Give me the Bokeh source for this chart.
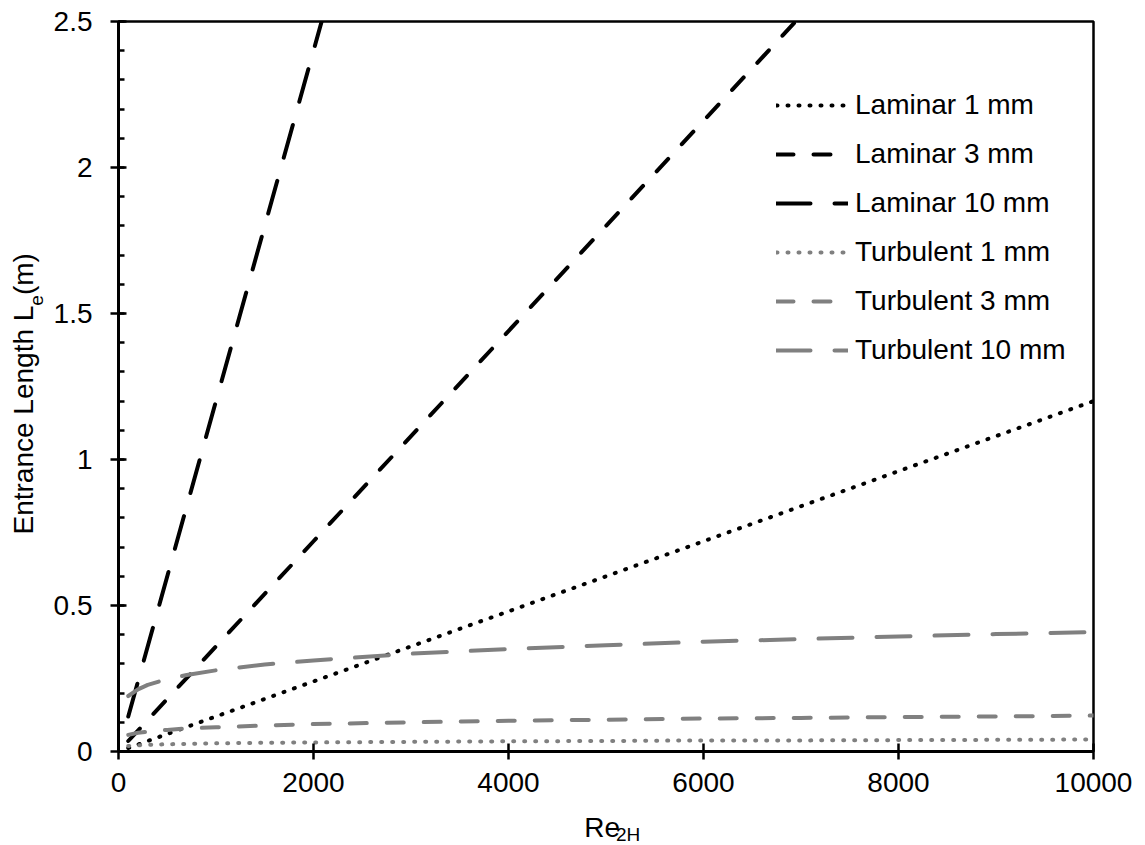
import math
from bokeh.plotting import figure
from bokeh.layouts import row, column
from bokeh.models import (Range1d, FixedTicker, CustomJSTickFormatter, Legend,
                          LegendItem, Label)
from bokeh.embed import file_html
from bokeh.resources import INLINE

# ---------------- data ----------------
re_lam = [100, 2000, 4000, 6000, 8000, 10000]
lam_1mm = [0.012, 0.24, 0.48, 0.72, 0.96, 1.2]
lam_3mm = [0.036, 0.72, 1.44, 2.16, 2.88, 3.6]
lam_10mm = [0.12, 2.4, 4.8, 7.2, 9.6, 12.0]

re_turb = [100, 200, 300, 500, 700, 1000, 1500, 2000, 3000, 4000, 5000,
           6000, 7000, 8000, 9000, 10000]
turb_1mm = [0.019, 0.021, 0.023, 0.025, 0.026, 0.028, 0.030, 0.031, 0.033,
            0.035, 0.036, 0.038, 0.038, 0.039, 0.040, 0.041]
turb_3mm = [0.057, 0.064, 0.068, 0.074, 0.079, 0.083, 0.089, 0.094, 0.100,
            0.105, 0.109, 0.113, 0.115, 0.118, 0.120, 0.123]
turb_10mm = [0.190, 0.213, 0.228, 0.248, 0.262, 0.278, 0.298, 0.312, 0.335,
             0.351, 0.364, 0.376, 0.385, 0.394, 0.402, 0.409]

series_names = ["Laminar 1 mm", "Laminar 3 mm", "Laminar 10 mm",
                "Turbulent 1 mm", "Turbulent 3 mm", "Turbulent 10 mm"]

x_ticks = [0, 2000, 4000, 6000, 8000, 10000]
y_ticks = [0, 0.5, 1, 1.5, 2, 2.5]
y_minor = [round(i * 0.1, 1) for i in range(26)]

x_label_main, x_label_sub = "Re", "2H"
y_label_main, y_label_sub, y_label_tail = "Entrance Length L", "e", "(m)"

# ---------------- styling ----------------
FONT = "Liberation Sans"
BLACK = "#000000"
GRAY = "#808080"
DOT = "1 10"
DASH = "17 20"
LONG = "34 24"

W, H = 1145, 845
LEFT_W = 50            # strip for the y-axis title
MAIN_H = 807           # main figure height
BOT_H = H - MAIN_H     # strip for the x-axis title
FL, FR, FT, FB = 117, 1093, 21, 751  # frame edges in page pixels

p = figure(width=W - LEFT_W, height=MAIN_H, output_backend="svg",
           toolbar_location=None,
           x_range=Range1d(0, 10000), y_range=Range1d(0, 2.5),
           min_border_left=FL - LEFT_W, min_border_right=W - FR,
           min_border_top=FT, min_border_bottom=MAIN_H - FB)
p.xgrid.visible = False
p.ygrid.visible = False
p.outline_line_color = BLACK
p.outline_line_width = 2.5
p.background_fill_color = "white"
p.border_fill_color = "white"

fmt = CustomJSTickFormatter(code="return String(Number(tick.toFixed(3)));")

xa = p.xaxis[0]
xa.ticker = FixedTicker(ticks=x_ticks)
xa.formatter = fmt
xa.minor_tick_line_color = None
xa.major_tick_in = 8
xa.major_tick_out = 8
xa.major_tick_line_width = 2.5
xa.axis_line_width = 3
xa.major_label_standoff = 13
xa.major_label_text_font = FONT
xa.major_label_text_font_size = "28px"
xa.major_label_text_color = BLACK

ya = p.yaxis[0]
ya.ticker = FixedTicker(ticks=y_ticks, minor_ticks=y_minor)
ya.formatter = fmt
ya.major_tick_in = 8
ya.major_tick_out = 8
ya.minor_tick_in = 6
ya.minor_tick_out = 0
ya.major_tick_line_width = 2.5
ya.minor_tick_line_width = 2.5
ya.axis_line_width = 3
ya.major_label_standoff = 18
ya.major_label_text_font = FONT
ya.major_label_text_font_size = "28px"
ya.major_label_text_color = BLACK

specs = [
    (re_lam, lam_1mm, BLACK, DOT),
    (re_lam, lam_3mm, BLACK, DASH),
    (re_lam, lam_10mm, BLACK, LONG),
    (re_turb, turb_1mm, GRAY, DOT),
    (re_turb, turb_3mm, GRAY, DASH),
    (re_turb, turb_10mm, GRAY, LONG),
]
items = []
for (xs, ys, col, dash), name in zip(specs, series_names):
    r = p.line(xs, ys, line_color=col, line_width=4, line_dash=dash,
               line_cap="round", line_join="round")
    items.append(LegendItem(label=name, renderers=[r]))

row_h, gap = 36, 13
leg_h = 6 * row_h + 5 * gap
leg_top = 105 - row_h / 2
legend = Legend(items=items, location=(775 - FL, FB - (leg_top + leg_h)),
                orientation="vertical", padding=0, margin=0, spacing=gap,
                glyph_width=72, glyph_height=row_h, label_height=row_h,
                label_standoff=7, border_line_color=None,
                background_fill_alpha=0,
                label_text_font=FONT, label_text_font_size="28px",
                label_text_color=BLACK, label_text_baseline="middle")
p.add_layout(legend, "center")


def text_strip(w, h):
    f = figure(width=w, height=h, output_backend="svg", toolbar_location=None,
               x_range=Range1d(0, w), y_range=Range1d(0, h),
               x_axis_type=None, y_axis_type=None,
               min_border=0, min_border_left=0, min_border_right=0,
               min_border_top=0, min_border_bottom=0)
    f.outline_line_color = None
    f.xgrid.visible = False
    f.ygrid.visible = False
    f.background_fill_color = "white"
    f.border_fill_color = "white"
    return f


def lab(fig, x, y, text, size, angle=0.0):
    fig.add_layout(Label(x=x, y=y, text=text, angle=angle,
                         text_font=FONT, text_font_size=size,
                         text_color=BLACK, text_align="left",
                         text_baseline="middle"))


# y-axis title strip (page x 0..50), Entrance Length L_e(m) rotated
left = text_strip(LEFT_W, H)
start_page_y = 534
main_w = 8.172 * 28
sub_w = 0.556 * 19
y0 = H - start_page_y
lab(left, 23, y0, y_label_main, "28px", math.pi / 2)
lab(left, 36, y0 + main_w, y_label_sub, "19px", math.pi / 2)
lab(left, 23, y0 + main_w + sub_w, y_label_tail, "28px", math.pi / 2)

# x-axis title strip (page y 807..845), Re_2H
bottom = text_strip(W - LEFT_W, BOT_H)
lab(bottom, 573 - LEFT_W, H - 826.5, x_label_main, "28px")
lab(bottom, 573 - LEFT_W + 1.278 * 28, H - 834, x_label_sub, "19px")

layout = row(left, column(p, bottom, spacing=0), spacing=0)

open("out.html", "w").write(file_html(layout, INLINE))
